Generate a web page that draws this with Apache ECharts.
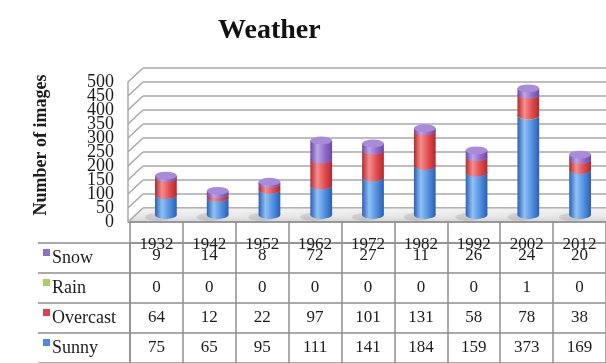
<!DOCTYPE html>
<html>
<head>
<meta charset="utf-8">
<script src="https://cdn.jsdelivr.net/npm/echarts@6/dist/echarts.min.js"></script>
<style>
  html, body { margin: 0; padding: 0; background: #fff; }
  #chart { width: 606px; height: 363px; }
</style>
</head>
<body>
<div id="chart"></div>
<script>
// Image counts per decade and weather type
const years = ['1932', '1942', '1952', '1962', '1972', '1982', '1992', '2002', '2012'];
const snow = [9, 14, 8, 72, 27, 11, 26, 24, 20];
const rain = [0, 0, 0, 0, 0, 0, 0, 1, 0];
const overcast = [64, 12, 22, 97, 101, 131, 58, 78, 38];
const sunny = [75, 65, 95, 111, 141, 184, 159, 373, 169];
const yTicks = [0, 50, 100, 150, 200, 250, 300, 350, 400, 450, 500];
const rowNames = ['Snow', 'Rain', 'Overcast', 'Sunny'];

const SERIF = '"Liberation Serif", "Times New Roman", serif';
const TEXT = '#1c1c1c';
const GRID_LINE = '#a8a8a8';
const TABLE_LINE = '#8e8e8e';
const DEPTH_X = 15, DEPTH_Y = 14;   // depth offset of the back wall

const shades = {
  Sunny:    { dark: '#2c5fb4', light: '#8fc1f5', mid: '#4f8ee0', cap: '#7eb1ee', key: '#4f88d8' },
  Rain:     { dark: '#7a9a36', light: '#d0e894', mid: '#a8c860', cap: '#c0dc80', key: '#a8d060' },
  Overcast: { dark: '#b02a2e', light: '#f58e8c', mid: '#e04a4c', cap: '#f07070', key: '#e04050' },
  Snow:     { dark: '#6948a6', light: '#bca6e8', mid: '#8f6cc8', cap: '#a88cda', key: '#8f6fc8' }
};

// Stack from the bottom up
const stackOrder = [['Sunny', sunny], ['Rain', rain], ['Overcast', overcast], ['Snow', snow]];
const running = years.map(() => 0);
const stacked = stackOrder.map(([name, vals]) => {
  const data = vals.map((v, i) => {
    const base = running[i];
    running[i] += v;
    return [i, base, running[i], v];
  });
  return { name, data };
});

function cylinder(shade) {
  return function (params, api) {
    const cat = api.value(0), base = api.value(1), top = api.value(2);
    if (!(top > base)) return null;
    const pb = api.coord([cat, base]);
    const pt = api.coord([cat, top]);
    const w = api.size([1, 0])[0] * 0.42;
    const rx = w / 2, ry = rx * 0.36;
    const body = {
      type: 'linear', x: 0, y: 0, x2: 1, y2: 0,
      colorStops: [
        { offset: 0, color: shade.dark },
        { offset: 0.32, color: shade.light },
        { offset: 0.68, color: shade.mid },
        { offset: 1, color: shade.dark }
      ]
    };
    const kids = [];
    if (base === 0) {
      kids.push({
        type: 'circle', x: pb[0] - 8, y: pb[1] + 2, scaleY: 0.3,
        shape: { cx: 0, cy: 0, r: 13 },
        style: { fill: 'rgba(0,0,0,0.10)', shadowBlur: 6, shadowColor: 'rgba(0,0,0,0.2)' }
      });
    }
    kids.push({ type: 'circle', x: pb[0], y: pb[1], scaleY: ry / rx, shape: { cx: 0, cy: 0, r: rx }, style: { fill: body } });
    kids.push({ type: 'rect', shape: { x: pb[0] - rx, y: pt[1], width: w, height: pb[1] - pt[1] }, style: { fill: body } });
    kids.push({ type: 'circle', x: pt[0], y: pt[1], scaleY: ry / rx, shape: { cx: 0, cy: 0, r: rx }, style: { fill: shade.cap } });
    return { type: 'group', children: kids };
  };
}

// Side wall strokes and the floor of the 3D box
function wallItem(params, api) {
  const v = api.value(1);
  const p = api.coord([0, v]);
  const kids = [];
  if (v === 0) {
    const right = params.coordSys.x + params.coordSys.width + 20;
    kids.push({
      type: 'polygon',
      shape: { points: [[p[0] - DEPTH_X, p[1] + DEPTH_Y], [p[0], p[1]], [right, p[1]], [right, p[1] + DEPTH_Y]] },
      style: {
        fill: { type: 'linear', x: 0, y: 0, x2: 0, y2: 1, colorStops: [
          { offset: 0, color: '#f5f5f5' }, { offset: 0.6, color: '#e8e8e8' }, { offset: 1, color: '#d2d2d2' }] },
        stroke: GRID_LINE, lineWidth: 1
      }
    });
    kids.push({
      type: 'line',
      shape: { x1: p[0] - DEPTH_X, y1: p[1] + DEPTH_Y, x2: right, y2: p[1] + DEPTH_Y },
      style: { stroke: '#8a8a8a', lineWidth: 1.5 }
    });
  }
  kids.push({
    type: 'line',
    shape: { x1: p[0], y1: p[1], x2: p[0] - DEPTH_X, y2: p[1] + DEPTH_Y },
    style: { stroke: GRID_LINE, lineWidth: 1.5 }
  });
  return { type: 'group', children: kids };
}

// Value labels along the front edge of the side wall (they overlap slightly, so drawn directly)
function tickLabelItem(params, api) {
  const v = api.value(1);
  const p = api.coord([0, v]);
  return {
    type: 'text',
    x: p[0] - 14, y: p[1],
    style: {
      text: String(v),
      align: 'right', verticalAlign: 'middle',
      textAlign: 'right', textVerticalAlign: 'middle',
      fontFamily: SERIF, fontSize: 18, fill: TEXT
    }
  };
}

// Data table cells
const tableRows = [snow, rain, overcast, sunny];
const tableData = [];
tableRows.forEach((vals, r) => vals.forEach((v, c) => tableData.push([c, r, v])));

function cellItem(params, api) {
  const c = api.value(0), r = api.value(1);
  const p = api.coord([c, r]);
  return {
    type: 'text',
    x: p[0], y: p[1] + (r === 0 ? -2 : 0),
    style: {
      text: String(api.value(2)),
      align: 'center', verticalAlign: 'middle',
      textAlign: 'center', textVerticalAlign: 'middle',
      fontFamily: SERIF, fontSize: 17, fill: TEXT
    }
  };
}

const richKeys = {};
rowNames.forEach(n => {
  richKeys[n.toLowerCase()] = { width: 7, height: 7, backgroundColor: shades[n].key, verticalAlign: 'top' };
});
richKeys.t = { fontFamily: SERIF, fontSize: 18, color: TEXT, padding: [0, 0, 0, 2] };

const tableLine = { color: TABLE_LINE, width: 1.5 };

const option = {
  animation: false,
  backgroundColor: '#ffffff',
  title: {
    text: 'Weather', left: 213, top: 12,
    textStyle: { fontFamily: SERIF, fontWeight: 'bold', fontSize: 28, color: '#111' }
  },
  grid: [
    { left: 140, right: -14, top: 82, bottom: 148 },
    { left: 143, right: -14, top: 68, bottom: 155 },
    { left: 128, right: -14, top: 82, bottom: 141 },
    { left: 130, right: -4, top: 243, bottom: -3 }
  ],
  xAxis: [
    { gridIndex: 0, type: 'category', data: years, show: false },
    { gridIndex: 1, type: 'value', min: 0, max: 1, show: false },
    { gridIndex: 2, type: 'value', min: 0, max: 1, show: false },
    {
      gridIndex: 3, type: 'category', data: years, position: 'top',
      axisLine: { show: true, lineStyle: tableLine },
      axisTick: { show: true, length: 22, lineStyle: tableLine },
      axisLabel: { margin: -10, fontFamily: SERIF, fontSize: 17, color: TEXT, interval: 0 },
      splitLine: { show: true, lineStyle: tableLine }
    }
  ],
  yAxis: [
    { gridIndex: 0, type: 'value', min: 0, max: 500, show: false },
    {
      gridIndex: 1, type: 'value', min: 0, max: 500, interval: 50,
      axisLine: { show: false }, axisTick: { show: false }, axisLabel: { show: false },
      splitLine: { show: true, lineStyle: { color: GRID_LINE, width: 1.5 } }
    },
    {
      gridIndex: 2, type: 'value', min: 0, max: 500, interval: 50,
      name: 'Number of images', nameLocation: 'middle', nameGap: 78, nameRotate: 90,
      nameTextStyle: { fontFamily: SERIF, fontWeight: 'bold', fontSize: 18, color: TEXT, padding: [0, 0, 0, 14] },
      axisLine: { show: true, lineStyle: { color: GRID_LINE, width: 1.5 } },
      axisTick: { show: false },
      splitLine: { show: false },
      axisLabel: { show: false }
    },
    {
      gridIndex: 3, type: 'category', data: rowNames, inverse: true,
      axisLine: { show: true, lineStyle: tableLine },
      axisTick: { show: true, length: 92, lineStyle: tableLine },
      axisLabel: {
        align: 'left', margin: 87,
        formatter: (name) => `{${name.toLowerCase()}|}{t|${name}}`,
        rich: richKeys
      },
      splitLine: { show: true, lineStyle: tableLine }
    },
    {
      gridIndex: 3, type: 'category', data: rowNames, inverse: true, offset: 92,
      axisLine: { show: true, lineStyle: tableLine },
      axisTick: { show: false }, axisLabel: { show: false }, splitLine: { show: false }
    }
  ],
  series: [
    {
      type: 'custom', name: 'wall', xAxisIndex: 1, yAxisIndex: 1, z: 1, silent: true,
      data: yTicks.map(v => [0, v]),
      renderItem: wallItem
    },
    {
      type: 'custom', name: 'ticks', xAxisIndex: 2, yAxisIndex: 2, z: 2, silent: true,
      data: yTicks.map(v => [0, v]),
      renderItem: tickLabelItem
    },
    ...stacked.map((s, k) => ({
      type: 'custom', name: s.name, xAxisIndex: 0, yAxisIndex: 0, z: 3 + k,
      data: s.data,
      renderItem: cylinder(shades[s.name])
    })),
    {
      type: 'custom', name: 'table', xAxisIndex: 3, yAxisIndex: 3, z: 5,
      data: tableData,
      renderItem: cellItem
    }
  ]
};

const chart = echarts.init(document.getElementById('chart'), null, { renderer: 'canvas' });
chart.setOption(option);
</script>
</body>
</html>
